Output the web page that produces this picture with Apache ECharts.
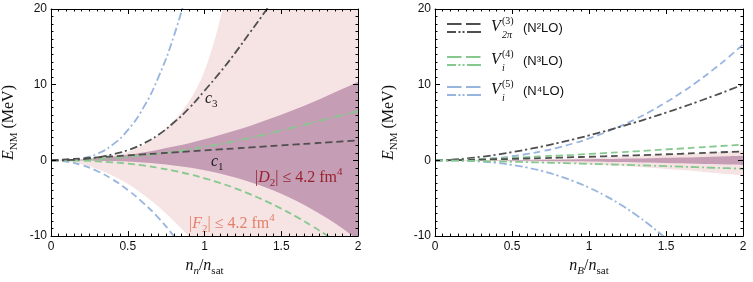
<!DOCTYPE html>
<html><head><meta charset="utf-8">
<script src="https://cdn.jsdelivr.net/npm/echarts@6/dist/echarts.min.js"></script>
<style>html,body{margin:0;padding:0;background:#fff}#c{width:753px;height:282px}</style>
</head><body><div id="c"></div>
<script>
// ---------- data ----------
const xs = [0,0.1,0.2,0.3,0.4,0.5,0.6,0.7,0.8,0.9,1.0,1.1,1.2,1.3,1.4,1.5,1.6,1.7,1.8,1.9,2.0];
const xTicks = [0,0.5,1,1.5,2];
const yTicks = [-10,0,10,20];

// Left panel (neutron matter, n_n/n_sat)
const leftF2Upper = [0,0.03,0.12,0.3,0.6,1.1,2.0,3.4,5.2,7.8,11.8,18.5,28,40,55,72,92,115,140,168,200];
const leftF2Lower = [0,-0.12,-0.5,-1.12,-2.0,-3.1,-4.5,-6.1,-8.0,-10.1,-12.5,-15.1,-18,-21.1,-24.5,-28.1,-32,-36.1,-40.5,-45.1,-50];
const leftD2Upper = [0,0.035,0.13,0.28,0.49,0.75,1.06,1.42,1.83,2.28,2.79,3.34,3.95,4.59,5.29,6.03,6.82,7.65,8.53,9.45,10.4];
const leftD2Lower = [0,-0.001,-0.01,-0.035,-0.084,-0.16,-0.28,-0.45,-0.67,-0.95,-1.31,-1.74,-2.26,-2.88,-3.59,-4.42,-5.37,-6.44,-7.64,-8.99,-10.5];
const leftC3 = [0,0.04,0.15,0.4,0.8,1.35,2.2,3.4,5.0,6.9,9.2,11.6,14.2,17.0,19.8,22.8];
const leftC1 = [0,0.13,0.26,0.4,0.53,0.66,0.79,0.92,1.06,1.19,1.32,1.45,1.58,1.72,1.85,1.98,2.11,2.24,2.38,2.51,2.64];
const leftN3LOdashdot = [0,0.02,0.08,0.17,0.3,0.46,0.65,0.88,1.15,1.45,1.8,2.15,2.55,3.0,3.45,3.95,4.45,4.95,5.5,6.0,6.5];
const leftN3LOdashed = [0,-0.008,-0.046,-0.12,-0.25,-0.43,-0.67,-0.99,-1.37,-1.82,-2.36,-2.98,-3.69,-4.49,-5.38,-6.37,-7.46,-8.66,-9.96,-11.4];
const leftN4LOdashdot = [0,0.03,0.26,0.86,2.05,4.0,6.9,11.0,16.4,23.3];
const leftN4LOdashed = [0,-0.16,-0.62,-1.4,-2.5,-3.9,-5.6,-7.6,-10.0,-12.6];

// Right panel (n_B/n_sat)
const rightF2Upper = [0,0.003,0.013,0.029,0.052,0.081,0.117,0.159,0.208,0.263,0.325,0.393,0.468,0.549,0.637,0.731,0.832,0.939,1.053,1.173,1.3];
const rightF2Lower = [0,-0.005,-0.02,-0.045,-0.08,-0.125,-0.18,-0.245,-0.32,-0.405,-0.5,-0.605,-0.72,-0.845,-0.98,-1.125,-1.28,-1.445,-1.62,-1.805,-2.0];
const rightD2Upper = [0,0.0015,0.006,0.014,0.024,0.038,0.054,0.074,0.096,0.12,0.15,0.18,0.22,0.25,0.29,0.34,0.38,0.43,0.49,0.54,0.6];
const rightD2Lower = [0,-0.0015,-0.006,-0.014,-0.024,-0.038,-0.054,-0.074,-0.096,-0.12,-0.15,-0.18,-0.22,-0.25,-0.29,-0.34,-0.38,-0.43,-0.49,-0.54,-0.6];
const rightN2LOdashdot = [0,0.08,0.25,0.48,0.76,1.09,1.46,1.86,2.31,2.79,3.3,3.84,4.42,5.02,5.65,6.31,7.0,7.71,8.45,9.22,10.0];
const rightN2LOdashed = [0,0.024,0.059,0.10,0.15,0.19,0.25,0.30,0.36,0.42,0.48,0.54,0.61,0.67,0.74,0.81,0.88,0.96,1.03,1.11,1.18];
const rightN3LOdashed = [0,0.043,0.105,0.18,0.26,0.35,0.44,0.54,0.64,0.74,0.85,0.97,1.08,1.20,1.32,1.45,1.57,1.70,1.83,1.96,2.10];
const rightN3LOdashdot = [0,-0.023,-0.055,-0.095,-0.14,-0.18,-0.23,-0.28,-0.34,-0.39,-0.45,-0.51,-0.57,-0.63,-0.70,-0.76,-0.83,-0.90,-0.97,-1.03,-1.11];
const rightN4LOdashed = [0,0.012,0.061,0.16,0.32,0.55,0.85,1.23,1.70,2.25,2.9,3.65,4.49,5.44,6.50,7.67,8.96,10.36,11.89,13.53,15.31];
const rightN4LOdashdot = [0,-0.009,-0.055,-0.16,-0.33,-0.59,-0.95,-1.42,-2.02,-2.74,-3.6,-4.61,-5.78,-7.12,-8.64,-10.33,-12.2];

// ---------- styles ----------
const C_GRAY = '#4f4f4f', C_GREEN = '#86c98f', C_BLUE = '#98b5df';
const C_PINK = '#f6e3e3', C_PURPLE = '#c59db4';
const DASH = [7,4], DASHDOT = [8,3,2,3];
const SANS = '"Liberation Sans", Arial, sans-serif';
const SERIF = '"Liberation Serif", "Times New Roman", serif';

const pairs = ys => ys.map((y,i)=>[xs[i], y]);

function line(grid, ys, color, dash){
  return {type:'line', xAxisIndex:grid*2, yAxisIndex:grid*2, data:pairs(ys), smooth:true,
    symbol:'none', silent:true, z:3,
    lineStyle:{color, width:1.8, type:dash}};
}

// Catmull-Rom -> cubic Bezier path through pixel points
function crPath(pts, start){
  let d = start ? 'M' + pts[0][0] + ',' + pts[0][1] : 'L' + pts[0][0] + ',' + pts[0][1];
  for (let i = 0; i < pts.length - 1; i++) {
    const p0 = pts[Math.max(i-1,0)], p1 = pts[i], p2 = pts[i+1], p3 = pts[Math.min(i+2, pts.length-1)];
    const c1 = [p1[0] + (p2[0]-p0[0])/6, p1[1] + (p2[1]-p0[1])/6];
    const c2 = [p2[0] - (p3[0]-p1[0])/6, p2[1] - (p3[1]-p1[1])/6];
    d += 'C' + c1[0] + ',' + c1[1] + ' ' + c2[0] + ',' + c2[1] + ' ' + p2[0] + ',' + p2[1];
  }
  return d;
}
function band(grid, lower, upper, color){
  return {type:'custom', xAxisIndex:grid*2, yAxisIndex:grid*2, silent:true, z:1, clip:true,
    data: xs.map((x,i)=>[x, lower[i], upper[i]]),
    encode:{x:0, y:[1,2]},
    renderItem:function(params, api){
      if (params.dataIndex !== 0) return null;
      const up = xs.map((x,i)=>api.coord([x, upper[i]]));
      const lo = xs.map((x,i)=>api.coord([x, lower[i]])).reverse();
      const cs = params.coordSys;
      const d = crPath(up, true) + crPath(lo, false) + 'Z';
      return {type:'path', shape:{pathData:d},
        style:{fill:color, stroke:null},
        clipPath:{type:'rect', shape:{x:cs.x, y:cs.y, width:cs.width, height:cs.height}}};
    }};
}

const richT = {
  i:{fontFamily:SERIF, fontStyle:'italic', fontSize:16, lineHeight:22, verticalAlign:'middle', color:'#111'},
  r:{fontFamily:SERIF, fontSize:16, lineHeight:22, verticalAlign:'middle', color:'#111'},
  sub:{fontFamily:SERIF, fontSize:11, lineHeight:13, verticalAlign:'bottom', color:'#111'},
  isub:{fontFamily:SERIF, fontStyle:'italic', fontSize:11, lineHeight:13, verticalAlign:'bottom', color:'#111'}
};

const tickFmt = v => (xTicks.concat(yTicks)).includes(v) ? String(v) : '';

function xAxes(grid, nameRich){
  const common = {gridIndex:grid, type:'value', min:xTicks[0], max:xTicks[xTicks.length-1], interval:0.5,
    z:10, splitLine:{show:false},
    axisLine:{show:true, onZero:false, lineStyle:{color:'#000', width:1}},
    axisTick:{show:true, inside:true, length:5, lineStyle:{color:'#000'}},
    minorTick:{show:true, splitNumber:10, length:2.5, lineStyle:{color:'#000'}}};
  return [
    Object.assign({}, common, {position:'bottom',
      axisLabel:{fontFamily:SANS, fontSize:12, color:'#111', margin:5, formatter:tickFmt},
      name:nameRich, nameLocation:'middle', nameGap:17, nameTextStyle:{rich:richT}}),
    Object.assign({}, common, {position:'top', axisLabel:{show:false}})
  ];
}
function yAxes(grid, nameGap){
  const common = {gridIndex:grid, type:'value', min:yTicks[0], max:yTicks[yTicks.length-1], interval:10,
    z:10, splitLine:{show:false},
    axisLine:{show:true, onZero:false, lineStyle:{color:'#000', width:1}},
    axisTick:{show:true, inside:true, length:5, lineStyle:{color:'#000'}},
    minorTick:{show:true, splitNumber:10, length:2.5, lineStyle:{color:'#000'}}};
  return [
    Object.assign({}, common, {position:'left',
      axisLabel:{fontFamily:SANS, fontSize:12, color:'#111', margin:4, formatter:tickFmt},
      name:'{i|E}{sub|NM}{r| (MeV)}', nameLocation:'middle', nameRotate:90, nameGap:nameGap,
      nameTextStyle:{rich:richT}}),
    Object.assign({}, common, {position:'right', axisLabel:{show:false}})
  ];
}

const series = [
  band(0, leftF2Lower, leftF2Upper, C_PINK),
  band(0, leftD2Lower, leftD2Upper, C_PURPLE),
  line(0, leftN4LOdashdot, C_BLUE, DASHDOT),
  line(0, leftN4LOdashed, C_BLUE, DASH),
  line(0, leftN3LOdashdot, C_GREEN, DASHDOT),
  line(0, leftN3LOdashed, C_GREEN, DASH),
  line(0, leftC3, C_GRAY, DASHDOT),
  line(0, leftC1, C_GRAY, DASH),
  band(1, rightF2Lower, rightF2Upper, C_PINK),
  band(1, rightD2Lower, rightD2Upper, C_PURPLE),
  line(1, rightN4LOdashed, C_BLUE, DASH),
  line(1, rightN4LOdashdot, C_BLUE, DASHDOT),
  line(1, rightN2LOdashdot, C_GRAY, DASHDOT),
  line(1, rightN3LOdashed, C_GREEN, DASH),
  line(1, rightN2LOdashed, C_GRAY, DASH),
  line(1, rightN3LOdashdot, C_GREEN, DASHDOT)
];

const rich2 = Object.assign({}, richT, {
  d:{fontFamily:SERIF, fontSize:16, lineHeight:22, verticalAlign:'middle'},
  di:{fontFamily:SERIF, fontStyle:'italic', fontSize:16, lineHeight:22, verticalAlign:'middle'},
  ds:{fontFamily:SERIF, fontSize:11, lineHeight:13, verticalAlign:'bottom'},
  dp:{fontFamily:SERIF, fontSize:11, lineHeight:13, verticalAlign:'top'}
});

function txt(x, y, text, fill, rich){
  return {type:'text', x, y, silent:true, z:10,
    style:{text, fill, rich, verticalAlign:'middle', align:'left', fontFamily:SERIF, fontSize:16}};
}

const legendItems = [
  {color:C_GRAY, sup:'(3)', sub:'2π', label:'(N²LO)', y:28},
  {color:C_GREEN, sup:'(4)', sub:'i', label:'(N³LO)', y:61},
  {color:C_BLUE, sup:'(5)', sub:'i', label:'(N⁴LO)', y:91}
];
const graphics = [
  txt(205, 99, '{di|c}{ds|3}', '#222', rich2),
  txt(211, 162, '{di|c}{ds|1}', '#222', rich2),
  txt(255, 178, '{d||}{di|D}{ds|2}{d|| ≤ 4.2 fm}{dp|4}', '#9a2230', rich2),
  txt(189, 224, '{d||}{di|F}{ds|2}{d|| ≤ 4.2 fm}{dp|4}', '#e4806a', rich2)
];
legendItems.forEach(it=>{
  graphics.push({type:'line', silent:true, z:10, shape:{x1:447,y1:it.y-4,x2:481,y2:it.y-4},
    style:{stroke:it.color, lineWidth:2, lineDash:[14.5,4.5]}});
  graphics.push({type:'line', silent:true, z:10, shape:{x1:447,y1:it.y+4,x2:481,y2:it.y+4},
    style:{stroke:it.color, lineWidth:2, lineDash:[9,2.5,2,2,2,2.5,20]}});
  graphics.push({type:'text', silent:true, z:10, x:491, y:it.y-1,
    style:{text:'V', fontFamily:SERIF, fontStyle:'italic', fontSize:16, fill:'#111', verticalAlign:'middle'}});
  graphics.push({type:'text', silent:true, z:10, x:502, y:it.y-7,
    style:{text:it.sup, fontFamily:SERIF, fontSize:10, fill:'#111', verticalAlign:'middle'}});
  graphics.push({type:'text', silent:true, z:10, x:502, y:it.y+7,
    style:{text:it.sub, fontFamily:SERIF, fontStyle:'italic', fontSize:10, fill:'#111', verticalAlign:'middle'}});
  graphics.push({type:'text', silent:true, z:10, x:523, y:it.y,
    style:{text:it.label, fontFamily:SANS, fontSize:13, fill:'#111', verticalAlign:'middle'}});
});

const chart = echarts.init(document.getElementById('c'), null, {renderer:'canvas'});
chart.setOption({
  animation:false,
  backgroundColor:'#fff',
  grid:[
    {left:50, top:9, width:308, height:229},
    {left:435, top:9, width:308, height:229}
  ],
  xAxis:[].concat(
    xAxes(0, '{i|n}{isub|n}{r|/}{i|n}{sub|sat}'),
    xAxes(1, '{i|n}{isub|B}{r|/}{i|n}{sub|sat}')
  ),
  yAxis:[].concat(yAxes(0, 31), yAxes(1, 35)),
  series,
  graphic:graphics
});
</script>
</body></html>
